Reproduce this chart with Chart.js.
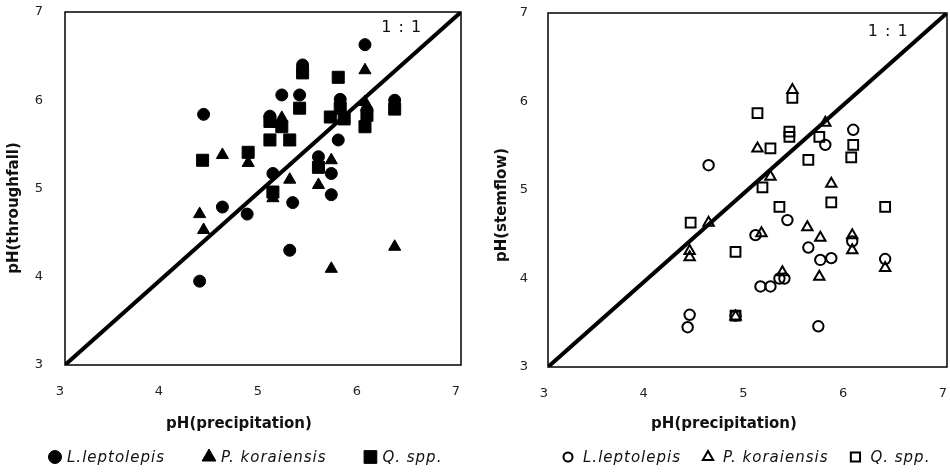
<!DOCTYPE html>
<html>
<head>
<meta charset="utf-8">
<script src="https://cdn.jsdelivr.net/npm/chart.js@4.4.1/dist/chart.umd.min.js"></script>
<style>
  html, body { margin: 0; padding: 0; background: #fff; }
  .wrap { position: relative; width: 950px; height: 472px; }
  .wrap canvas { position: absolute; top: 0; }
  #throughfallChart { left: 0; }
  #stemflowChart { left: 475px; }
</style>
</head>
<body>
<div class="wrap">
  <canvas id="throughfallChart" width="475" height="472"></canvas>
  <canvas id="stemflowChart" width="475" height="472"></canvas>
</div>
<script>
// --- dados ---
const axisTicks = [3, 4, 5, 6, 7];
const oneToOneX = [3, 7];
const oneToOneY = [3, 7];
const seriesNames = ['L.leptolepis', 'P. koraiensis', 'Q. spp.'];

// throughfall (esquerda)
const tfLarchX = [6.03, 5.40, 5.19, 5.37, 4.40, 5.07, 5.78, 6.05, 6.33, 5.76, 5.56, 5.69, 5.10, 5.69, 5.30, 4.59, 4.84, 5.27, 4.36];
const tfLarchY = [6.63, 6.40, 6.06, 6.06, 5.84, 5.82, 6.01, 5.89, 6.00, 5.55, 5.36, 5.17, 5.17, 4.93, 4.84, 4.79, 4.71, 4.30, 3.95];
const tfPineX = [6.03, 5.19, 5.27, 4.59, 4.85, 5.69, 5.27, 5.56, 5.10, 4.36, 4.40, 5.69, 6.33, 6.03, 5.82];
const tfPineY = [6.34, 5.80, 5.53, 5.38, 5.29, 5.32, 5.10, 5.04, 4.89, 4.71, 4.53, 4.09, 4.34, 5.98, 5.76];
const tfOakX = [5.76, 5.40, 5.37, 5.78, 5.68, 5.82, 6.05, 6.03, 6.33, 5.07, 5.19, 5.07, 5.27, 4.39, 4.85, 5.56, 5.10];
const tfOakY = [6.26, 6.31, 5.91, 5.91, 5.81, 5.80, 5.83, 5.70, 5.90, 5.76, 5.70, 5.55, 5.55, 5.32, 5.41, 5.24, 4.96];

// stemflow (direita)
const sfLarchX = [5.78, 6.06, 4.61, 5.40, 5.08, 6.05, 5.61, 5.73, 5.84, 6.38, 5.13, 5.23, 5.32, 5.37, 4.42, 4.40, 5.71, 4.88];
const sfLarchY = [5.51, 5.68, 5.28, 4.66, 4.49, 4.42, 4.35, 4.21, 4.23, 4.22, 3.91, 3.91, 4.00, 4.00, 3.59, 3.45, 3.46, 3.58];
const sfPineX = [5.45, 5.78, 5.10, 5.23, 5.84, 4.61, 5.60, 5.14, 5.73, 6.05, 6.05, 6.38, 4.42, 4.42, 5.72, 5.35, 4.88];
const sfPineY = [6.13, 5.76, 5.47, 5.15, 5.07, 4.63, 4.58, 4.51, 4.46, 4.49, 4.32, 4.12, 4.31, 4.24, 4.02, 4.07, 3.57];
const sfOakX = [5.45, 5.10, 5.42, 5.42, 5.72, 6.06, 5.23, 5.61, 6.04, 5.15, 5.32, 5.84, 6.38, 4.43, 4.88, 4.88];
const sfOakY = [6.04, 5.87, 5.66, 5.60, 5.60, 5.51, 5.47, 5.34, 5.37, 5.03, 4.81, 4.86, 4.81, 4.63, 4.30, 3.58];

const toPoints = (xs, ys) => xs.map((x, i) => ({ x: x, y: ys[i] }));

// desenha um marcador (legenda)
function drawMark(ctx, style, x, y, r, filled, lw) {
    ctx.beginPath();
    if (style === 'circle') {
        ctx.arc(x, y, r, 0, Math.PI * 2);
    } else if (style === 'triangle') {
        let a = 0;
        ctx.moveTo(x + Math.sin(a) * r, y - Math.cos(a) * r);
        a += Math.PI * 2 / 3;
        ctx.lineTo(x + Math.sin(a) * r, y - Math.cos(a) * r);
        a += Math.PI * 2 / 3;
        ctx.lineTo(x + Math.sin(a) * r, y - Math.cos(a) * r);
        ctx.closePath();
    } else {
        const s = r * Math.SQRT1_2;
        ctx.rect(x - s, y - s, 2 * s, 2 * s);
    }
    ctx.lineWidth = lw;
    ctx.strokeStyle = '#000';
    if (filled) { ctx.fillStyle = '#000'; ctx.fill(); }
    ctx.stroke();
}

// moldura, rótulo 1:1, títulos dos eixos e legenda
const decorPlugin = {
    id: 'decor',
    afterDraw(chart, args, o) {
        const { ctx, chartArea: a, scales } = chart;
        ctx.save();
        ctx.strokeStyle = '#000';
        ctx.lineWidth = 1.5;
        ctx.strokeRect(a.left, a.top, a.right - a.left, a.bottom - a.top);

        ctx.fillStyle = '#111';
        ctx.textAlign = 'center';
        ctx.textBaseline = 'middle';
        ctx.font = '16px "DejaVu Sans"';
        ctx.letterSpacing = '1px';
        ctx.fillText('1 : 1', scales.x.getPixelForValue(o.ratioAt[0]), scales.y.getPixelForValue(o.ratioAt[1]));

        ctx.font = 'bold 15px "DejaVu Sans"';
        ctx.letterSpacing = '0px';
        ctx.fillText(o.xTitle, o.xTitlePos[0], o.xTitlePos[1]);
        ctx.save();
        ctx.translate(o.yTitlePos[0], o.yTitlePos[1]);
        ctx.rotate(-Math.PI / 2);
        ctx.fillText(o.yTitle, 0, 0);
        ctx.restore();

        // legenda
        ctx.font = 'italic 15px "DejaVu Sans"';
        ctx.letterSpacing = '1px';
        ctx.textAlign = 'left';
        let x = o.legend.start;
        const y = o.legend.y;
        chart.data.datasets.forEach((ds) => {
            if (!ds.legendText) return;
            drawMark(ctx, ds.pointStyle, x + o.legend.box / 2, y, ds.legendRadius, o.legend.filled, ds.pointBorderWidth);
            x += o.legend.box + o.legend.textGap;
            ctx.fillStyle = '#111';
            ctx.fillText(ds.legendText, x, y + 1);
            x += ctx.measureText(ds.legendText).width + o.legend.itemGap;
        });
        ctx.restore();
    }
};

function axisOptions(size, pad, isX, shift) {
    return {
        type: 'linear',
        min: 3,
        max: 7,
        afterBuildTicks: (scale) => { scale.ticks = axisTicks.map(v => ({ value: v })); },
        afterFit: (scale) => {
            if (isX) { scale.height = size; } else { scale.width = size; }
            // sem folga extra para os rótulos nas pontas
            scale.paddingTop = 0;
            scale.paddingBottom = 0;
            scale.paddingLeft = 0;
            scale.paddingRight = 0;
        },
        grid: { display: false, drawTicks: false },
        border: { display: false },
        ticks: {
            padding: pad,
            labelOffset: shift || 0,
            color: '#222',
            font: { family: 'DejaVu Sans', size: 13 }
        }
    };
}

function makeChart(canvasId, cfg) {
    const filled = cfg.filled;
    const datasets = [{
        type: 'line',
        data: toPoints(oneToOneX, oneToOneY),
        borderColor: '#000',
        borderWidth: 4,
        pointRadius: 0,
        showLine: true
    }];
    cfg.series.forEach((s, i) => {
        datasets.push({
            type: 'scatter',
            legendText: seriesNames[i],
            data: toPoints(s.xs, s.ys),
            pointStyle: s.style,
            pointRadius: s.r,
            legendRadius: s.legendR,
            pointBackgroundColor: filled ? '#000' : 'rgba(0,0,0,0)',
            pointBorderColor: '#000',
            pointBorderWidth: filled ? 1 : 2
        });
    });

    return new Chart(document.getElementById(canvasId), {
        data: { datasets: datasets },
        plugins: [decorPlugin],
        options: {
            responsive: false,
            animation: false,
            devicePixelRatio: 1,
            layout: { padding: cfg.padding, autoPadding: false },
            plugins: {
                legend: { display: false },
                tooltip: { enabled: false },
                decor: cfg.decor
            },
            scales: {
                x: axisOptions(cfg.xHeight, cfg.xPad, true, cfg.xShift),
                y: axisOptions(cfg.yWidth, cfg.yPad, false, 0)
            }
        }
    });
}

document.addEventListener('DOMContentLoaded', () => {
    // Gráfico 1: throughfall
    makeChart('throughfallChart', {
        filled: true,
        padding: { left: 0, right: 14, top: 12, bottom: 0 },
        xHeight: 107, xPad: 19, xShift: -5,
        yWidth: 65, yPad: 22,
        series: [
            { xs: tfLarchX, ys: tfLarchY, style: 'circle', r: 6, legendR: 6.5 },
            { xs: tfPineX, ys: tfPineY, style: 'triangle', r: 7, legendR: 8 },
            { xs: tfOakX, ys: tfOakY, style: 'rect', r: 8.5, legendR: 9 }
        ],
        decor: {
            ratioAt: [6.40, 6.82],
            xTitle: 'pH(precipitation)', xTitlePos: [239, 424],
            yTitle: 'pH(throughfall)', yTitlePos: [14, 208],
            legend: { start: 48, y: 457, box: 14, textGap: 5, itemGap: 37, filled: true }
        }
    });

    // Gráfico 2: stemflow
    makeChart('stemflowChart', {
        filled: false,
        padding: { left: 0, right: 3, top: 13, bottom: 0 },
        xHeight: 105, xPad: 19, xShift: -4,
        yWidth: 73, yPad: 20,
        series: [
            { xs: sfLarchX, ys: sfLarchY, style: 'circle', r: 5.2, legendR: 4.5 },
            { xs: sfPineX, ys: sfPineY, style: 'triangle', r: 6, legendR: 6 },
            { xs: sfOakX, ys: sfOakY, style: 'rect', r: 6.9, legendR: 6.5 }
        ],
        decor: {
            ratioAt: [6.41, 6.785],
            xTitle: 'pH(precipitation)', xTitlePos: [249, 424],
            yTitle: 'pH(stemflow)', yTitlePos: [27, 205],
            legend: { start: 88, y: 457, box: 10, textGap: 10, itemGap: 22, filled: false }
        }
    });
});
</script>
</body>
</html>
